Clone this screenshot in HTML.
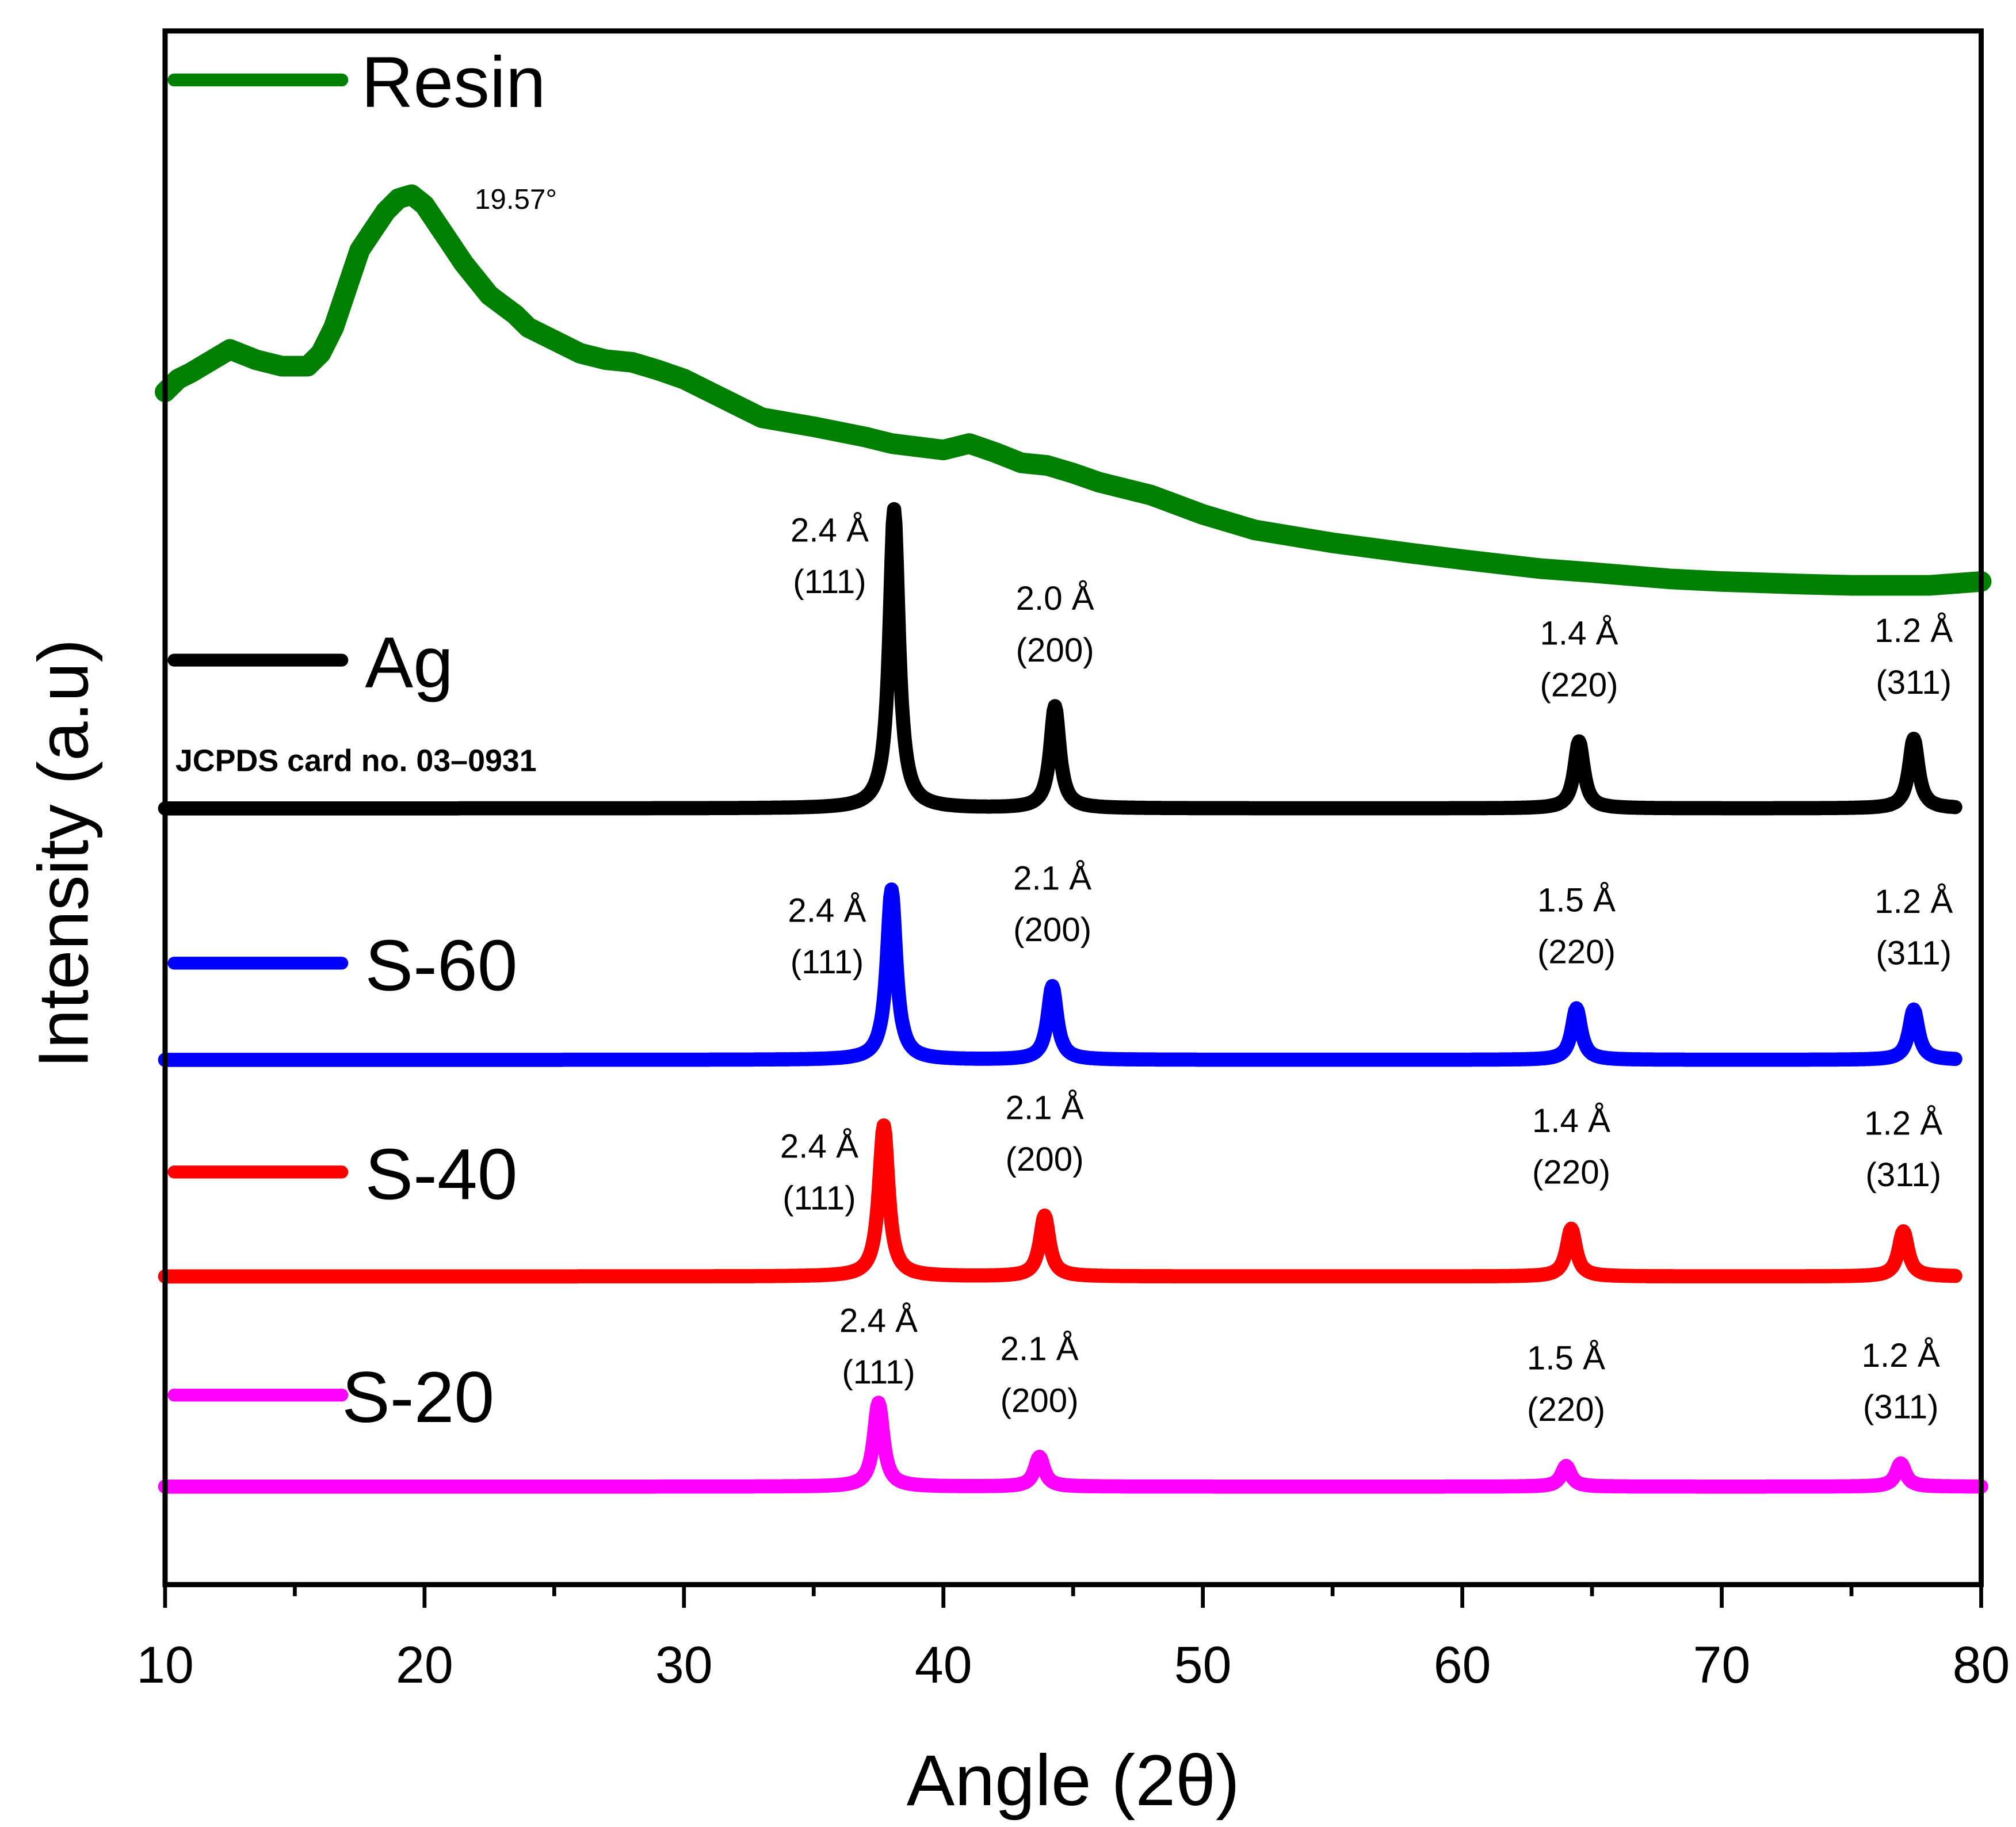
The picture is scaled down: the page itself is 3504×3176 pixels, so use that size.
<!DOCTYPE html>
<html><head><meta charset="utf-8"><style>
html,body{margin:0;padding:0;background:#fff;}
svg{display:block;font-family:"Liberation Sans",Arial,sans-serif;}
</style></head><body>
<svg id="chart" width="3504" height="3176" viewBox="0 0 1563 1417" preserveAspectRatio="none">
<g id="series"></g>
<rect x="128" y="24" width="1408" height="1205" fill="none" stroke="#000" stroke-width="4"/>
<g id="xticks"></g>
<text x="832" y="1400" font-size="56" text-anchor="middle">Angle (2θ)</text>
<text transform="translate(68,662) rotate(-90)" font-size="55" text-anchor="middle">Intensity (a.u)</text>
<g id="legend"></g>
<g id="annots"></g>
<text x="368" y="162" font-size="22">19.57°</text>
<text x="136" y="598" font-size="24" font-weight="bold">JCPDS card no. 03–0931</text>
</svg>
<script>
const xTicks = [10,20,30,40,50,60,70,80];
const xMinorTicks = [15,25,35,45,55,65,75];
const seriesNames = ["Ag","S-60","S-40","S-20"];
const seriesColors = ["#000000","#0000ff","#ff0000","#ff00ff"];
const seriesBaselines = [602,407,239,76];
const seriesEnd = [79,79,79,80];
const peakPositions = [[38.1,44.3,64.5,77.4],[38.0,44.2,64.4,77.4],[37.7,43.9,64.2,77.0],[37.5,43.7,64.0,76.9]];
const peakHeights = [[232,79,52,54],[132,57,40,39],[117,47,37,35],[65,23,16,18]];
const peakLabels = [["2.4 Å","2.0 Å","1.4 Å","1.2 Å"],["2.4 Å","2.1 Å","1.5 Å","1.2 Å"],["2.4 Å","2.1 Å","1.4 Å","1.2 Å"],["2.4 Å","2.1 Å","1.5 Å","1.2 Å"]];
const hklLabels = ["(111)","(200)","(220)","(311)"];
const resinX = [10,10.5,11,12,12.5,13.5,14.5,15.5,16,16.5,17,17.5,18,18.5,19,19.5,20,20.5,21,21.5,22.5,23.5,24,25,26,27,28,29,30,31,32,33,35,37,38,40,41,42,43,44,45,46,48,50,52,55,58,60,63,65,68,70,73,75,78,80];
const resinY = [925,935,940,952,958,950,945,945,955,975,1005,1035,1050,1065,1075,1078,1070,1055,1040,1025,1000,985,975,965,955,950,948,942,935,925,915,905,898,890,885,880,885,878,870,868,862,855,845,830,818,808,800,795,788,785,780,778,776,775,775,778];
const legendYs = [512,747,909,1082];

const NS="http://www.w3.org/2000/svg";
const xS = v => 128 + (v-10)*(1408/70);
const yS = v => 1229 - v;
function mk(tag, attrs, parent){const e=document.createElementNS(NS,tag);for(const k in attrs)e.setAttribute(k,attrs[k]);parent.appendChild(e);return e;}
const seriesG=document.getElementById('series'), xg=document.getElementById('xticks'), lg=document.getElementById('legend'), ag=document.getElementById('annots');

xTicks.forEach(t=>{
  const l=mk('line',{x1:xS(t),x2:xS(t),y1:1229,y2:1247,stroke:'#000','stroke-width':3},xg);
  
  
  const tx=mk('text',{x:xS(t),y:1305,'font-size':40,'text-anchor':'middle'},xg);
  tx.textContent=t;
  
  
});
xMinorTicks.forEach(t=>{
  const l=mk('line',{x1:xS(t),x2:xS(t),y1:1229,y2:1238,stroke:'#000','stroke-width':3},xg);
  
  
});

let d='';
resinX.forEach((x,i)=>{d+=(i?'L':'M')+xS(x).toFixed(1)+','+yS(resinY[i]).toFixed(1);});
const rp=mk('path',{d:d,fill:'none',stroke:'#008000','stroke-width':16,'stroke-linejoin':'round','stroke-linecap':'round'},seriesG);



seriesNames.forEach((nm,si)=>{
  let p='';
  const hw=0.28;
  for(let x=10;x<=seriesEnd[si]+1e-9;x+=0.05){
    let v=seriesBaselines[si];
    peakPositions[si].forEach((c,k)=>{const u=(x-c)/hw;v+=peakHeights[si][k]/(1+u*u*1.6);});
    p+=(p?'L':'M')+xS(x).toFixed(1)+','+yS(v).toFixed(1);
  }
  const path=mk('path',{d:p,fill:'none',stroke:seriesColors[si],'stroke-width':11,'stroke-linejoin':'round','stroke-linecap':'round'},seriesG);
  
  
  peakPositions[si].forEach((c,k)=>{
    const top=yS(seriesBaselines[si]+peakHeights[si][k]);
    let dx=0, y1=top-75, y2=top-35;
    if(k===0){
      if(si===3){dx=0;y1=top-55;y2=top-15;}
      else {dx=-50;y1=top+25;y2=top+65;}
    }
    const t1=mk('text',{x:xS(c)+dx,y:y1,'font-size':26,'text-anchor':'middle'},ag);
    t1.textContent=peakLabels[si][k];
    
    
    const t2=mk('text',{x:xS(c)+dx,y:y2,'font-size':26,'text-anchor':'middle'},ag);
    t2.textContent=hklLabels[k];
    
    
  });
});

const legendAll=[["Resin","#008000",62,280],["Ag","#000",512,283],["S-60","#0000ff",747,283],["S-40","#ff0000",909,283],["S-20","#ff00ff",1082,265]];
legendAll.forEach(([n,c,y,tx])=>{
  const l=mk('line',{x1:135,x2:265,y1:y,y2:y,stroke:c,'stroke-width':10,'stroke-linecap':'round'},lg);
  
  
  const t=mk('text',{x:tx,y:y+21,'font-size':56},lg);
  t.textContent=n;
  
  
});
</script>
</body></html>
